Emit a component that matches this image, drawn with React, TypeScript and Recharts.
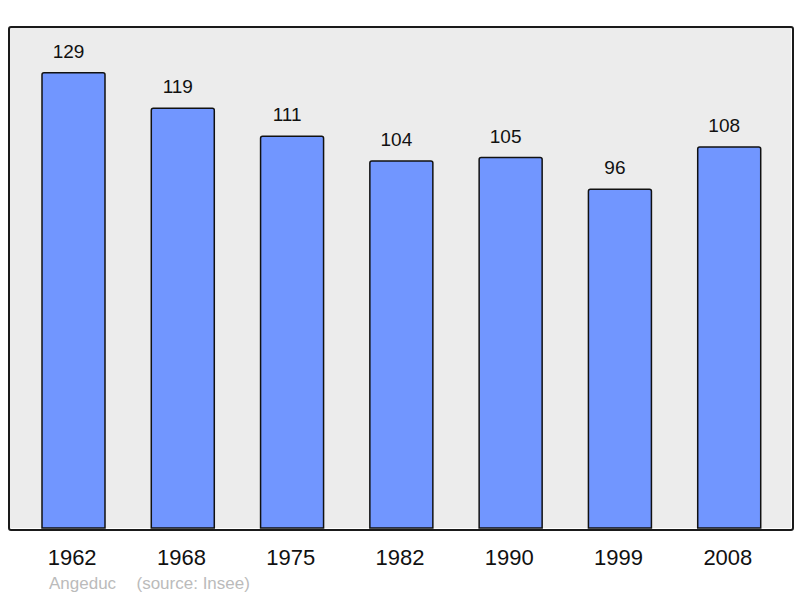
import { BarChart, Bar, XAxis, YAxis, CartesianGrid, LabelList } from 'recharts';

const years = ['1962', '1968', '1975', '1982', '1990', '1999', '2008'];
const population = [129, 119, 111, 104, 105, 96, 108];

const W = 800;
const H = 598;
const M = { top: 27, right: 9, bottom: 0, left: 9 };
const AXIS_H = 70;

export default function App() {
  const data = years.map((year, i) => ({ year, population: population[i] }));
  const font = '"Liberation Sans", Arial, sans-serif';

  return (
    <div style={{ position: 'absolute', left: 0, top: 0, width: W, height: H, fontFamily: font }}>
      <BarChart width={W} height={H} data={data} margin={M} barSize={63}>
        <CartesianGrid fill="#ececec" horizontal={false} vertical={false} />
        <XAxis
          dataKey="year"
          height={AXIS_H}
          axisLine={false}
          tickLine={false}
          tickSize={0}
          tickMargin={21}
          padding={{ left: 10, right: 7 }}
          tick={{ fontSize: 22, fill: '#111', fontFamily: font, dx: -1.5 }}
        />
        <YAxis hide domain={[0, 142]} />
        <Bar
          dataKey="population"
          fill="#7196ff"
          stroke="#111"
          strokeWidth={1.5}
          radius={[2, 2, 0, 0]}
          isAnimationActive={false}
        >
          <LabelList
            dataKey="population"
            position="top"
            offset={15}
            dx={-5}
            style={{ fontSize: 19, fill: '#111', fontFamily: font }}
          />
        </Bar>
      </BarChart>
      {/* plot frame */}
      <div
        style={{
          position: 'absolute',
          left: M.left - 1,
          top: M.top - 1,
          width: W - M.left - M.right,
          height: H - M.top - AXIS_H,
          border: '2px solid #1a1a1a',
          borderRadius: 3,
          pointerEvents: 'none',
        }}
      />
      <div style={{ position: 'absolute', left: 49, top: 574, fontSize: 17, color: '#bbbbbb' }}>Angeduc</div>
      <div style={{ position: 'absolute', left: 136.5, top: 574, fontSize: 17, color: '#bbbbbb' }}>
        (source: Insee)
      </div>
    </div>
  );
}
